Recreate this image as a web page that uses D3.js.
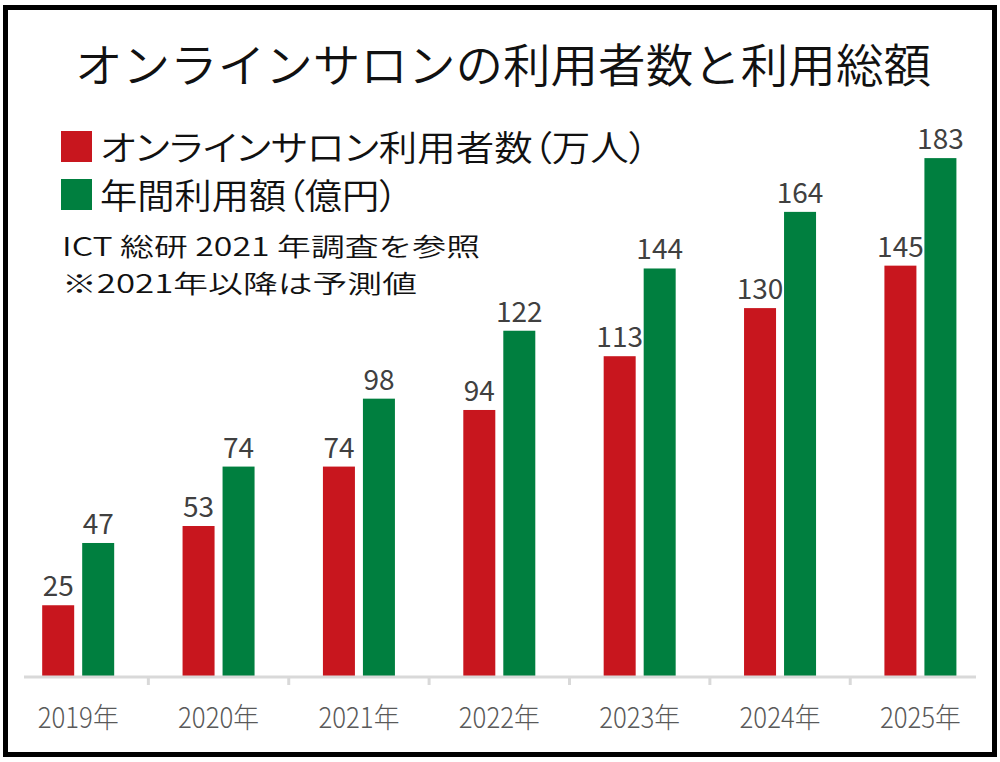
<!DOCTYPE html>
<html>
<head>
<meta charset="utf-8">
<script src="https://cdn.jsdelivr.net/npm/d3@7"></script>
<style>
  html, body { margin: 0; padding: 0; background: #fff; }
  svg { display: block; }
  text { font-family: "Noto Sans CJK JP", "Noto Sans", sans-serif; font-weight: 350; }
  .legend-label { font-feature-settings: "palt"; }
  .val { font-weight: 400; }
  .xlab { font-weight: 300; }
</style>
</head>
<body>
<svg id="chart" width="1000" height="762"></svg>
<script>
// data
const years = ["2019年", "2020年", "2021年", "2022年", "2023年", "2024年", "2025年"];
const users = [25, 53, 74, 94, 113, 130, 145];     // 万人
const amount = [47, 74, 98, 122, 144, 164, 183];   // 億円
const seriesNames = ["オンラインサロン利用者数（万人）", "年間利用額（億円）"];
const seriesColors = ["#c8161e", "#007f3f"];
const notes = ["ICT 総研 2021 年調査を参照", "※2021年以降は予測値"];
const title = "オンラインサロンの利用者数と利用総額";

const svg = d3.select("#chart");

// frame
svg.append("rect")
    .attr("x", 5.5).attr("y", 7.5)
    .attr("width", 989).attr("height", 747)
    .attr("fill", "#fff")
    .attr("stroke", "#000")
    .attr("stroke-width", 5);

// title
svg.append("text")
    .attr("x", 75).attr("y", 82)
    .attr("font-size", 46)
    .attr("fill", "#111")
    .attr("textLength", 856)
    .attr("lengthAdjust", "spacingAndGlyphs")
    .text(title);

// legend
const legendY = [131, 179];
const legendW = [548, 298];
seriesNames.forEach((name, i) => {
  svg.append("rect")
      .attr("x", 61).attr("y", legendY[i])
      .attr("width", 31).attr("height", 31)
      .attr("fill", seriesColors[i]);
  svg.append("text")
      .attr("class", "legend-label")
      .attr("x", 100).attr("y", legendY[i] + 30)
      .attr("font-size", 35)
      .attr("fill", "#111")
      .attr("textLength", legendW[i])
      .attr("lengthAdjust", "spacingAndGlyphs")
      .text(name);
});

// notes
const noteW = [418, 355];
notes.forEach((n, i) => {
  svg.append("text")
      .attr("x", 62).attr("y", 256 + i * 37)
      .attr("font-size", 25.5)
      .attr("fill", "#111")
      .attr("textLength", noteW[i])
      .attr("lengthAdjust", "spacingAndGlyphs")
      .text(n);
});

// scales
const x0 = d3.scaleBand().domain(years).range([8, 990.6]);
const groupW = 72;
const x1 = d3.scaleBand().domain([0, 1]).range([0, groupW]).paddingInner(0.2);
const y = d3.scaleLinear().domain([0, 200]).range([676, 110]);

const data = years.map((yr, i) => ({ year: yr, values: [users[i], amount[i]] }));

const groups = svg.append("g").selectAll("g")
    .data(data)
  .enter().append("g")
    .attr("transform", d => "translate(" + (x0(d.year) + (x0.bandwidth() - groupW) / 2) + ",0)");

groups.selectAll("rect")
    .data(d => d.values.map((v, k) => ({ k: k, v: v })))
  .enter().append("rect")
    .attr("x", d => x1(d.k))
    .attr("y", d => y(d.v))
    .attr("width", x1.bandwidth())
    .attr("height", d => y(0) - y(d.v))
    .attr("fill", d => seriesColors[d.k]);

groups.selectAll("text.val")
    .data(d => d.values.map((v, k) => ({ k: k, v: v })))
  .enter().append("text")
    .attr("class", "val")
    .attr("x", d => x1(d.k) + x1.bandwidth() / 2)
    .attr("y", d => y(d.v) - 9)
    .attr("text-anchor", "middle")
    .attr("font-family", "'Open Sans', sans-serif")
    .attr("font-size", 28)
    .attr("fill", "#404040")
    .text(d => d.v);

// x axis
const axis = svg.append("g")
    .attr("transform", "translate(0,677)")
    .call(d3.axisBottom(x0).tickSize(0).tickFormat(""));
axis.select(".domain").remove();
axis.append("line")
    .attr("x1", 24).attr("x2", 976)
    .attr("stroke", "#d9d9d9").attr("stroke-width", 3);
// boundary ticks between categories
axis.selectAll(".sep")
    .data(years.slice(1))
  .enter().append("line")
    .attr("class", "sep")
    .attr("x1", d => x0(d)).attr("x2", d => x0(d))
    .attr("y1", 0).attr("y2", 8)
    .attr("stroke", "#d9d9d9").attr("stroke-width", 3);
axis.selectAll(".tick text").remove();
axis.selectAll(".tick").append("text")
    .attr("class", "xlab")
    .attr("y", 51)
    .attr("text-anchor", "middle")
    .attr("font-size", 28)
    .attr("fill", "#595959")
    .attr("textLength", 81)
    .attr("lengthAdjust", "spacingAndGlyphs")
    .text(d => d);
</script>
</body>
</html>
